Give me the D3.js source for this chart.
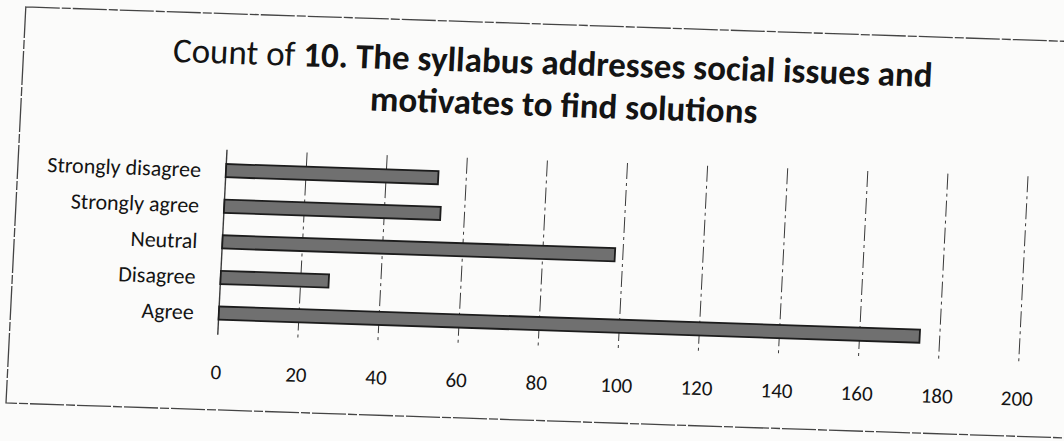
<!DOCTYPE html>
<html lang="en">
<head>
	<meta charset="utf-8">
	<title>syllabus chart</title>
	<script src="https://d3js.org/d3.v7.min.js"></script>
	<style>
		body{ margin:0; background:#fbfbfa; }
		svg{ display:block; }
		text{ font-family:Carlito, Calibri, "Open Sans", sans-serif; fill:#141414; }
	</style>
</head>
<body>
<div id="chart"></div>

<script>
// data
let categories=["Agree","Disagree","Neutral","Strongly agree","Strongly disagree"];
let counts=[175,27,98,54,53];
let ticks=[0,20,40,60,80,100,120,140,160,180,200];
let titleLine1a="Count of ";
let titleLine1b="10. The syllabus addresses social issues and";
let titleLine2="motivates to find solutions";

let W=1064,H=441;
let svg=d3.select("#chart").append("svg")
	.attr("width",W)
	.attr("height",H);

// the printed page was scanned a bit crooked (tilt + skew)
let g=svg.append("g").attr("transform","translate(532,220) matrix(1,0.033,-0.05,1,0,0) translate(-532,-220)");

// chart frame
g.append("rect")
	.attr("x",16).attr("y",24)
	.attr("width",1100).attr("height",396)
	.attr("fill","none")
	.attr("stroke","#444")
	.attr("stroke-width",1.3)
	.attr("stroke-dasharray","34,2,9,2");

let x=d3.scaleLinear().domain([0,200]).range([224,1025]);
let y=d3.scaleBand().domain(categories).range([341,163]).paddingInner(0.63).paddingOuter(0.315);

// gridlines
g.append("g").selectAll("line")
	.data(ticks)
	.enter()
	.append("line")
	.attr("x1",d=>x(d)).attr("x2",d=>x(d))
	.attr("y1",160).attr("y2",345)
	.attr("stroke","#3a3a3a")
	.attr("stroke-width",d=>d==0?1.4:1)
	.attr("stroke-dasharray",d=>d==0?null:"16,4,3,4");

// bars
g.append("g").selectAll("rect")
	.data(categories)
	.enter()
	.append("rect")
	.attr("x",x(0))
	.attr("y",d=>y(d))
	.attr("width",(d,i)=>x(counts[i])-x(0))
	.attr("height",y.bandwidth())
	.attr("fill","#707070")
	.attr("stroke","#1c1c1c")
	.attr("stroke-width",1.8);

// category labels
g.append("g").selectAll("text")
	.data(categories)
	.enter()
	.append("text")
	.attr("x",199)
	.attr("y",d=>y(d)+y.bandwidth()/2)
	.attr("dy","0.33em")
	.attr("text-anchor","end")
	.style("font-size","22px")
	.text(d=>d);

// value axis labels
g.append("g").selectAll("text")
	.data(ticks)
	.enter()
	.append("text")
	.attr("x",d=>x(d))
	.attr("y",382)
	.attr("dy","0.35em")
	.attr("text-anchor","middle")
	.style("font-size","21px")
	.text(d=>d);

// title
let t1=g.append("text")
	.attr("x",545).attr("y",74)
	.attr("text-anchor","middle")
	.style("font-size","35px");
t1.append("tspan").text(titleLine1a);
t1.append("tspan").style("font-weight","bold").text(titleLine1b);
g.append("text")
	.attr("x",558).attr("y",116)
	.attr("text-anchor","middle")
	.style("font-size","35px")
	.style("font-weight","bold")
	.text(titleLine2);
</script>
</body>
</html>
